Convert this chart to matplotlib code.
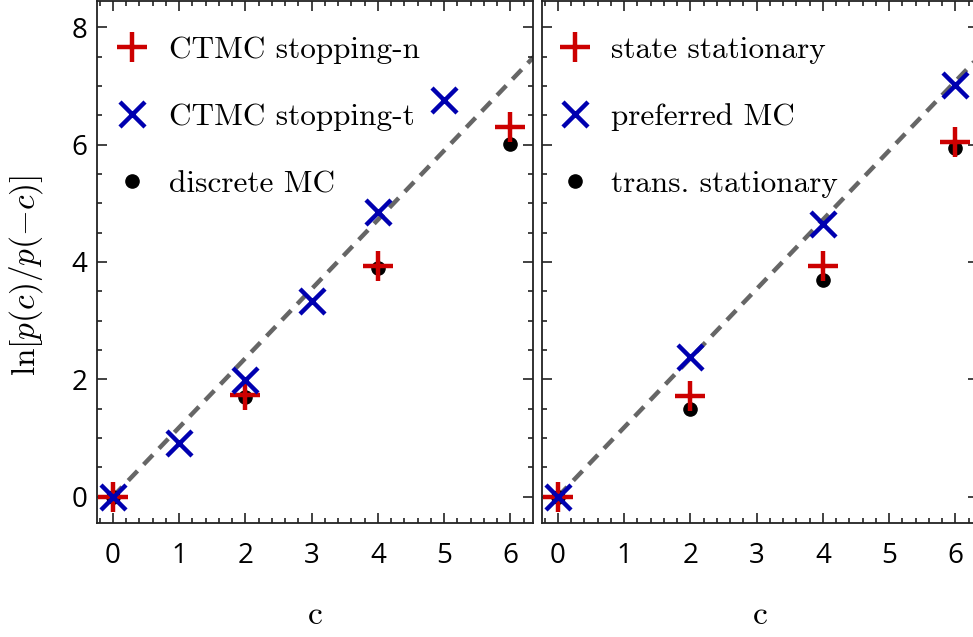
import matplotlib
matplotlib.use("Agg")
import matplotlib.pyplot as plt
from matplotlib.ticker import MultipleLocator

plt.rcParams['mathtext.fontset'] = 'cm'
plt.rcParams['axes.linewidth'] = 1.3

# left panel: CTMC stopping rules vs. discrete chain
c_n = [0, 2, 4, 6]
stop_n = [0.0, 1.73, 3.93, 6.30]
c_t = [0, 1, 2, 3, 4, 5]
stop_t = [0.0, 0.92, 1.99, 3.33, 4.86, 6.77]
c_disc = [0, 2, 4, 6]
disc_mc = [0.0, 1.70, 3.90, 6.01]

# right panel: stationary estimates
c_r = [0, 2, 4, 6]
state_stat = [0.0, 1.72, 3.93, 6.04]
pref_mc = [0.0, 2.38, 4.64, 7.02]
trans_stat = [0.0, 1.50, 3.69, 5.94]

# fluctuation-theorem reference line
line_c = [0, 6.6]
line_y = [0, 7.79]

xticks = [0, 1, 2, 3, 4, 5, 6]
yticks = [0, 2, 4, 6, 8]

RED = '#cc0000'
BLUE = '#0000b0'
GRAY = '#666666'
TICKFONT = 'Open Sans'
SERIF = 'cmr10'

fig = plt.figure(figsize=(9.73, 6.37), dpi=100)
W, H = 973, 637
ax1 = fig.add_axes([97 / W, 1 - 523 / H, 436 / W, 522 / H])
ax2 = fig.add_axes([542 / W, 1 - 523 / H, 436 / W, 522 / H])


def style(ax, show_ylabels):
    ax.set_xlim(-0.24, 6.34)
    ax.set_ylim(-0.45, 8.45)
    ax.set_xticks(xticks)
    ax.set_yticks(yticks)
    ax.xaxis.set_minor_locator(MultipleLocator(0.2))
    ax.yaxis.set_minor_locator(MultipleLocator(0.5))
    ax.tick_params(which='both', direction='in', top=True, right=True,
                   width=1.2, colors='#222222')
    ax.tick_params(which='major', length=7)
    ax.tick_params(which='minor', length=3.5)
    ax.tick_params(axis='x', pad=14)
    ax.tick_params(axis='y', pad=7)
    if not show_ylabels:
        ax.tick_params(axis='y', labelleft=False)
    for lab in ax.get_xticklabels() + ax.get_yticklabels():
        lab.set_fontfamily(TICKFONT)
        lab.set_fontsize(20)
        lab.set_color('black')
    for sp in ax.spines.values():
        sp.set_color('#222222')
    ax.set_xlabel('c', fontfamily=SERIF, fontsize=24, labelpad=22)


def draw(ax, c_plus, y_plus, c_x, y_x, c_dot, y_dot, labels, lx):
    ax.plot(line_c, line_y, ls=(0, (3, 2)), lw=3.2, color=GRAY, zorder=1)
    hd, = ax.plot(c_dot, y_dot, 'o', color='black', ms=9.5, zorder=2)
    hp, = ax.plot(c_plus, y_plus, '+', color=RED, ms=21, mew=3.2, zorder=3)
    hx, = ax.plot(c_x, y_x, 'x', color=BLUE, ms=18, mew=3.2, zorder=4)
    ax.legend([hp, hx, hd], labels, loc='upper left',
              bbox_to_anchor=(lx, 0.932), frameon=False,
              borderaxespad=0, borderpad=0, handlelength=1.1,
              handletextpad=0.62, labelspacing=1.25,
              prop={'family': SERIF, 'size': 22.5})


draw(ax1, c_n, stop_n, c_t, stop_t, c_disc, disc_mc,
     ['CTMC stopping-n', 'CTMC stopping-t', 'discrete MC'], 0.042)
draw(ax2, c_r, state_stat, c_r, pref_mc, c_r, trans_stat,
     ['state stationary', 'preferred MC', 'trans. stationary'], 0.036)

style(ax1, True)
style(ax2, False)
ax1.set_ylabel(r'$\ln[p(c)/p(-c)]$', fontsize=24)
ax1.yaxis.set_label_coords(-0.12, 0.475)

fig.savefig('out.png', dpi=100)
